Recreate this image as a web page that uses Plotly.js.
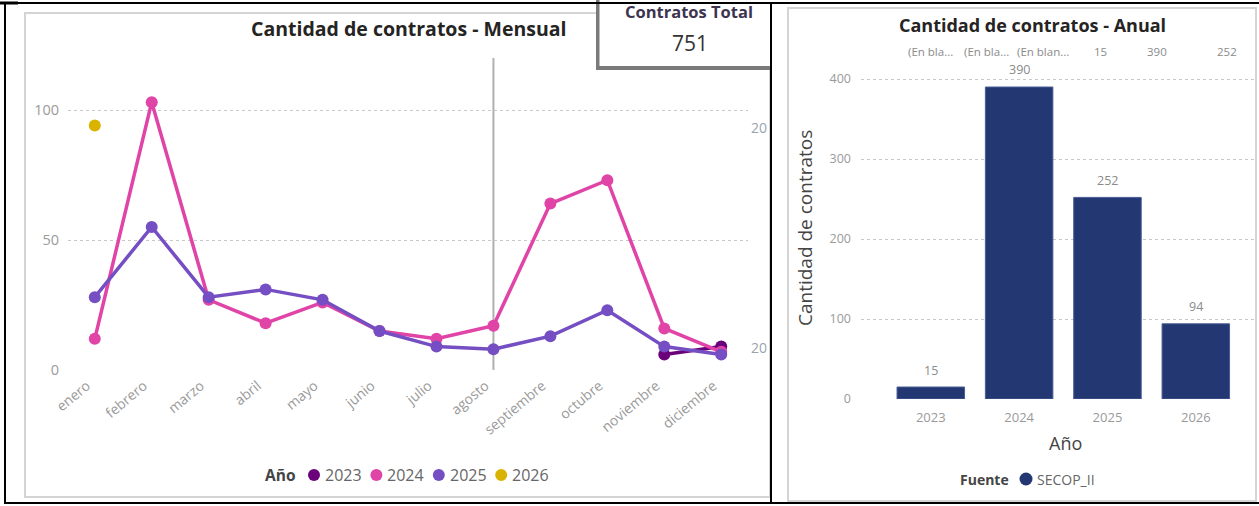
<!DOCTYPE html>
<html>
<head>
<meta charset="utf-8">
<script src="https://cdn.plot.ly/plotly-3.0.1.min.js"></script>
<style>
  html, body { margin:0; padding:0; background:#fff; }
  #chart { width:1259px; height:506px; }
</style>
</head>
<body>
<div id="chart"></div>
<script>
// ---------- DATA ----------
const months = ['enero','febrero','marzo','abril','mayo','junio','julio','agosto','septiembre','octubre','noviembre','diciembre'];
const years = ['2023','2024','2025','2026'];
const serie2023 = [null,null,null,null,null,null,null,null,null,null,6,9];
const serie2024 = [12,103,27,18,26,15,12,17,64,73,16,7];
const serie2025 = [28,55,28,31,27,15,9,8,13,23,9,6];
const serie2026 = [94,null,null,null,null,null,null,null,null,null,null,null];
const annualYears = ['2023','2024','2025','2026'];
const annualTotals = [15,390,252,94];
const topRowLabels = ['(En bla...','(En bla...','(En blan...','15','390','252'];
const leftYTicks = [0,50,100];
const rightYTicks = [0,100,200,300,400];
const totalContratos = 751;

// ---------- LAYOUT HELPERS ----------
const W = 1259, H = 506;
const X = p => p / W;
const Y = p => 1 - p / H;
const FONT = 'Open Sans, Noto Sans, sans-serif';
const yearColors = ['#6B007B','#E044A7','#744EC2','#D9B300'];
const barColor = '#233873';
const tickGray = '#9a9a9a';

const series = [serie2023, serie2024, serie2025, serie2026];
const traces = series.map((s, i) => ({
  type: 'scatter',
  mode: 'lines+markers',
  x: months,
  y: s,
  name: years[i],
  xaxis: 'x', yaxis: 'y',
  line: { color: yearColors[i], width: 3.5 },
  marker: { color: yearColors[i], size: 12 },
  connectgaps: false,
  hoverinfo: 'x+y+name'
}));

traces.push({
  type: 'bar',
  x: annualYears,
  y: annualTotals,
  name: 'SECOP_II',
  xaxis: 'x2', yaxis: 'y2',
  marker: { color: barColor, line: { color: '#4a5c94', width: 1 } }
});

const shapes = [];
shapes.push({ type:'rect', xref:'paper', yref:'paper', x0:X(25), x1:X(770), y0:Y(497), y1:Y(13),
  line:{ color:'#d4d4d4', width:2 }, fillcolor:'rgba(0,0,0,0)', layer:'below' });
shapes.push({ type:'rect', xref:'paper', yref:'paper', x0:X(788), x1:X(1256), y0:Y(501), y1:Y(8),
  line:{ color:'#d4d4d4', width:2 }, fillcolor:'rgba(0,0,0,0)', layer:'below' });
// hover line at agosto
shapes.push({ type:'line', xref:'x', yref:'y', x0:7, x1:7, y0:0, y1:120,
  line:{ color:'#b0b0b0', width:2 }, layer:'below' });
// card with shadow
shapes.push({ type:'rect', xref:'paper', yref:'paper', x0:X(596), x1:X(771), y0:Y(70), y1:Y(-5),
  line:{ width:0 }, fillcolor:'#7a7a7a', layer:'above' });
shapes.push({ type:'rect', xref:'paper', yref:'paper', x0:X(599.5), x1:X(771), y0:Y(66), y1:Y(-5),
  line:{ width:0 }, fillcolor:'#ffffff', layer:'above' });
// black frame lines
const black = { color:'#000', width:2 };
shapes.push({ type:'rect', xref:'paper', yref:'paper', x0:X(5), x1:X(771), y0:Y(503), y1:Y(3),
  line:black, fillcolor:'rgba(0,0,0,0)', layer:'above' });
shapes.push({ type:'line', xref:'paper', yref:'paper', x0:X(771), x1:X(1259), y0:Y(3), y1:Y(3), line:black, layer:'above' });
shapes.push({ type:'line', xref:'paper', yref:'paper', x0:X(771), x1:X(1259), y0:Y(503), y1:Y(503), line:black, layer:'above' });
shapes.push({ type:'line', xref:'paper', yref:'paper', x0:X(0), x1:X(18), y0:Y(3), y1:Y(3), line:{color:'#000', width:3}, layer:'above' });

const ann = [];
function txt(px, py, text, size, color, extra) {
  ann.push(Object.assign({ xref:'paper', yref:'paper', x:X(px), y:Y(py), text:text, showarrow:false,
    xanchor:'center', yanchor:'middle', font:{ family:FONT, size:size, color:color } }, extra || {}));
}
// titles
txt(409, 28, '<b>Cantidad de contratos - Mensual</b>', 19.5, '#252423');
txt(1032, 25, '<b>Cantidad de contratos - Anual</b>', 18, '#252423');
// card
txt(689, 12, '<b>Contratos Total</b>', 16.5, '#3d3450');
txt(690, 43, String(totalContratos), 21, '#333');
// clipped secondary labels on the left chart
[127, 347].forEach(py => txt(769, py, '20', 14, '#9aa3ad', { xanchor:'right' }));
// left legend
txt(280, 475, '<b>Año</b>', 15.5, '#444');
years.forEach((yr, i) => {
  const cx = 314 + i * 62.4;
  shapes.push({ type:'circle', xref:'paper', yref:'paper', x0:X(cx-6), x1:X(cx+6), y0:Y(475+6), y1:Y(475-6),
    fillcolor:yearColors[i], line:{ width:0 }, layer:'above' });
  txt(cx + 9, 475, yr, 16, '#666', { xanchor:'left' });
});
// right chart top row labels
const topX = [930, 986, 1043, 1100, 1157, 1227];
topRowLabels.forEach((t, i) => txt(topX[i], 52, t, 11.5, '#8a8a8a'));
// bar data labels (positioned through the bar axes)
annualTotals.forEach((v, i) => ann.push({ xref:'x2', yref:'y2', x:i, y:v, yshift:17, xanchor:'center', yanchor:'middle',
  text:String(v), showarrow:false, font:{ family:FONT, size:12.5, color:'#8a8a8a' } }));
// right axis titles
txt(805, 228, 'Cantidad de contratos', 19, '#444', { textangle:-90 });
txt(1065, 443, 'Año', 18, '#444');
// right legend
txt(984, 479, '<b>Fuente</b>', 14, '#444');
shapes.push({ type:'circle', xref:'paper', yref:'paper', x0:X(1026-6.5), x1:X(1026+6.5), y0:Y(479+6.5), y1:Y(479-6.5),
  fillcolor:barColor, line:{ width:0 }, layer:'above' });
txt(1035, 479, 'SECOP_II', 14, '#666', { xanchor:'left' });

const layout = {
  width: W, height: H,
  margin: { l:0, r:0, t:0, b:0, pad:0 },
  paper_bgcolor: '#fff',
  plot_bgcolor: 'rgba(0,0,0,0)',
  showlegend: false,
  font: { family: FONT },
  bargap: 0.236,
  xaxis: {
    domain: [X(68), X(748)], anchor:'y', type:'category', categoryarray: months,
    range: [-0.47, 11.47], tickangle: -40, showgrid:false, zeroline:false, showline:false,
    ticks:'', ticklabelstandoff: 4, ticklabelshift: -8, tickfont:{ family:FONT, size:14, color:tickGray }, fixedrange:true
  },
  yaxis: {
    domain: [Y(370), Y(58)], anchor:'x', range:[0,120], tickvals: leftYTicks,
    showgrid:true, gridcolor:'#c8c8c8', griddash:'dot', gridwidth:1, zeroline:false, showline:false,
    ticks:'', ticklabelstandoff: 8, tickfont:{ family:FONT, size:14.5, color:tickGray }, fixedrange:true
  },
  xaxis2: {
    domain: [X(861), X(1255)], anchor:'y2', type:'category', categoryarray: annualYears,
    range: [-0.79, 3.67], showgrid:false, zeroline:false, showline:false,
    ticks:'', ticklabelstandoff: 9, tickfont:{ family:FONT, size:13, color:tickGray }, fixedrange:true
  },
  yaxis2: {
    domain: [Y(399), Y(71)], anchor:'x2', range:[0,410], tickvals: rightYTicks,
    showgrid:true, gridcolor:'#c8c8c8', griddash:'dot', gridwidth:1, zeroline:false, showline:false,
    ticks:'', ticklabelstandoff: 9, tickfont:{ family:FONT, size:12.5, color:tickGray }, fixedrange:true
  },
  shapes: shapes,
  annotations: ann
};

Plotly.newPlot('chart', traces, layout, { displayModeBar:false, staticPlot:true });
</script>
</body>
</html>
